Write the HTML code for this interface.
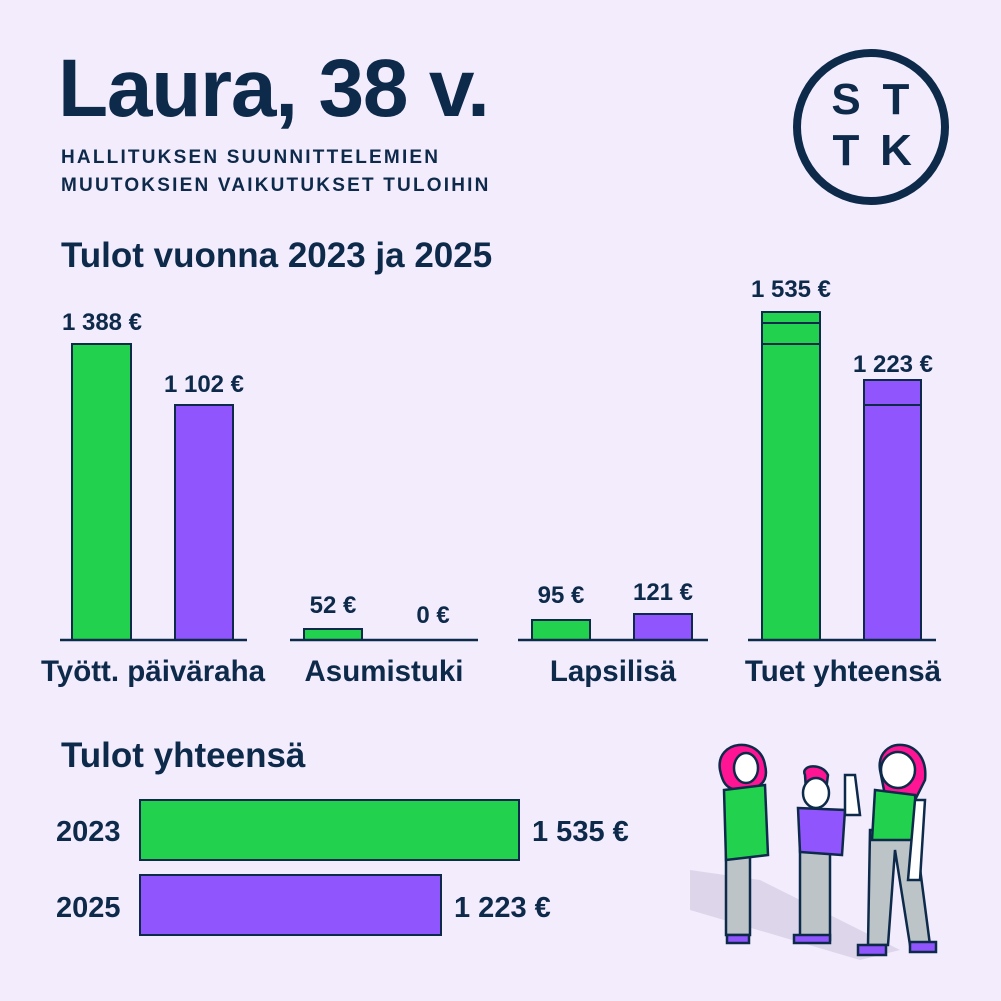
<!DOCTYPE html>
<html><head><meta charset="utf-8"><style>
body{margin:0;background:#f3ecfd;}
svg{display:block;font-family:"Liberation Sans",sans-serif;}
</style></head><body>
<svg width="1001" height="1001" viewBox="0 0 1001 1001">
<rect width="1001" height="1001" fill="#f3ecfd"/>
<g fill="#0d2a4a" font-weight="bold">
<text x="58" y="116" font-size="82" letter-spacing="-1.2">Laura, 38 v.</text>
<text x="61" y="163" font-size="19" letter-spacing="2.2">HALLITUKSEN SUUNNITTELEMIEN</text>
<text x="61" y="191" font-size="19" letter-spacing="2.2">MUUTOKSIEN VAIKUTUKSET TULOIHIN</text>
<text x="61" y="267" font-size="35">Tulot vuonna 2023 ja 2025</text>
<text x="61" y="767" font-size="35">Tulot yhteensä</text>
</g>
<circle cx="871" cy="127" r="74" fill="none" stroke="#0d2a4a" stroke-width="8"/>
<g fill="#0d2a4a" font-weight="bold" font-size="44" text-anchor="middle">
<text x="846" y="114">S</text><text x="896" y="114">T</text>
<text x="846" y="165">T</text><text x="896" y="165">K</text>
</g>
<g stroke="#0d2a4a" stroke-width="2">
<rect x="72" y="344" width="59" height="296" fill="#22d24e"/>
<rect x="175" y="405" width="58" height="235" fill="#9155fd"/>
<rect x="304" y="629" width="58" height="11" fill="#22d24e"/>
<rect x="532" y="620" width="58" height="20" fill="#22d24e"/>
<rect x="634" y="614" width="58" height="26" fill="#9155fd"/>
<rect x="762" y="312" width="58" height="328" fill="#22d24e"/>
<line x1="762" y1="323" x2="820" y2="323"/><line x1="762" y1="344" x2="820" y2="344"/>
<rect x="864" y="380" width="57" height="260" fill="#9155fd"/>
<line x1="864" y1="405" x2="921" y2="405"/>
<rect x="140" y="800" width="379" height="60" fill="#22d24e"/>
<rect x="140" y="875" width="301" height="60" fill="#9155fd"/>
</g>
<g stroke="#0d2a4a" stroke-width="2.5">
<line x1="60" y1="640" x2="247" y2="640"/><line x1="290" y1="640" x2="478" y2="640"/>
<line x1="518" y1="640" x2="708" y2="640"/><line x1="748" y1="640" x2="936" y2="640"/>
</g>
<g fill="#0d2a4a" font-weight="bold" font-size="24" text-anchor="middle">
<text x="102" y="330">1 388 €</text><text x="204" y="392">1 102 €</text>
<text x="333" y="613">52 €</text><text x="433" y="623">0 €</text>
<text x="561" y="603">95 €</text><text x="663" y="600">121 €</text>
<text x="791" y="297">1 535 €</text><text x="893" y="372">1 223 €</text>
</g>
<g fill="#0d2a4a" font-size="29.5" text-anchor="middle" font-weight="bold">
<text x="153" y="681">Tyött. päiväraha</text><text x="384" y="681">Asumistuki</text>
<text x="613" y="681">Lapsilisä</text><text x="843" y="681">Tuet yhteensä</text>
</g>
<g fill="#0d2a4a" font-weight="bold" font-size="29">
<text x="56" y="841">2023</text><text x="56" y="917">2025</text>
<text x="532" y="841">1 535 €</text><text x="454" y="917">1 223 €</text>
</g>
<polygon points="690,870 760,880 900,950 860,960 690,910" fill="#ddd5ea"/>
<g stroke="#0d2a4a" stroke-width="2.5">
<path d="M720,770 C715,740 760,735 765,765 C770,785 755,790 740,790 C725,790 722,780 720,770Z" fill="#ff1493"/>
<ellipse cx="746" cy="768" rx="12" ry="15" fill="#fff"/>
<rect x="726" y="830" width="24" height="105" fill="#bcc4c8"/>
<path d="M724,790 L765,785 L768,855 L726,860Z" fill="#22d24e"/>
<rect x="727" y="935" width="22" height="8" fill="#9155fd"/>
<path d="M805,775 C800,765 822,762 828,775 L826,790 L806,790Z" fill="#ff1493"/>
<ellipse cx="816" cy="793" rx="13" ry="15" fill="#fff"/>
<rect x="800" y="850" width="30" height="90" fill="#bcc4c8"/>
<path d="M798,808 L845,810 L842,855 L800,852Z" fill="#9155fd"/>
<path d="M845,815 L860,815 L855,775 L845,775Z" fill="#fff"/>
<rect x="794" y="935" width="36" height="8" fill="#9155fd"/>
<path d="M880,770 C875,735 930,735 925,780 L915,800 L885,795Z" fill="#ff1493"/>
<ellipse cx="898" cy="770" rx="17" ry="18" fill="#fff"/>
<path d="M870,830 L915,830 L930,945 L910,945 L895,850 L888,945 L868,945Z" fill="#bcc4c8"/>
<path d="M875,790 L915,795 L918,840 L872,840Z" fill="#22d24e"/>
<path d="M915,800 L925,800 L920,880 L908,880Z" fill="#fff"/>
<rect x="858" y="945" width="28" height="10" fill="#9155fd"/>
<rect x="910" y="942" width="26" height="10" fill="#9155fd"/>
</g>
</svg>
</body></html>
